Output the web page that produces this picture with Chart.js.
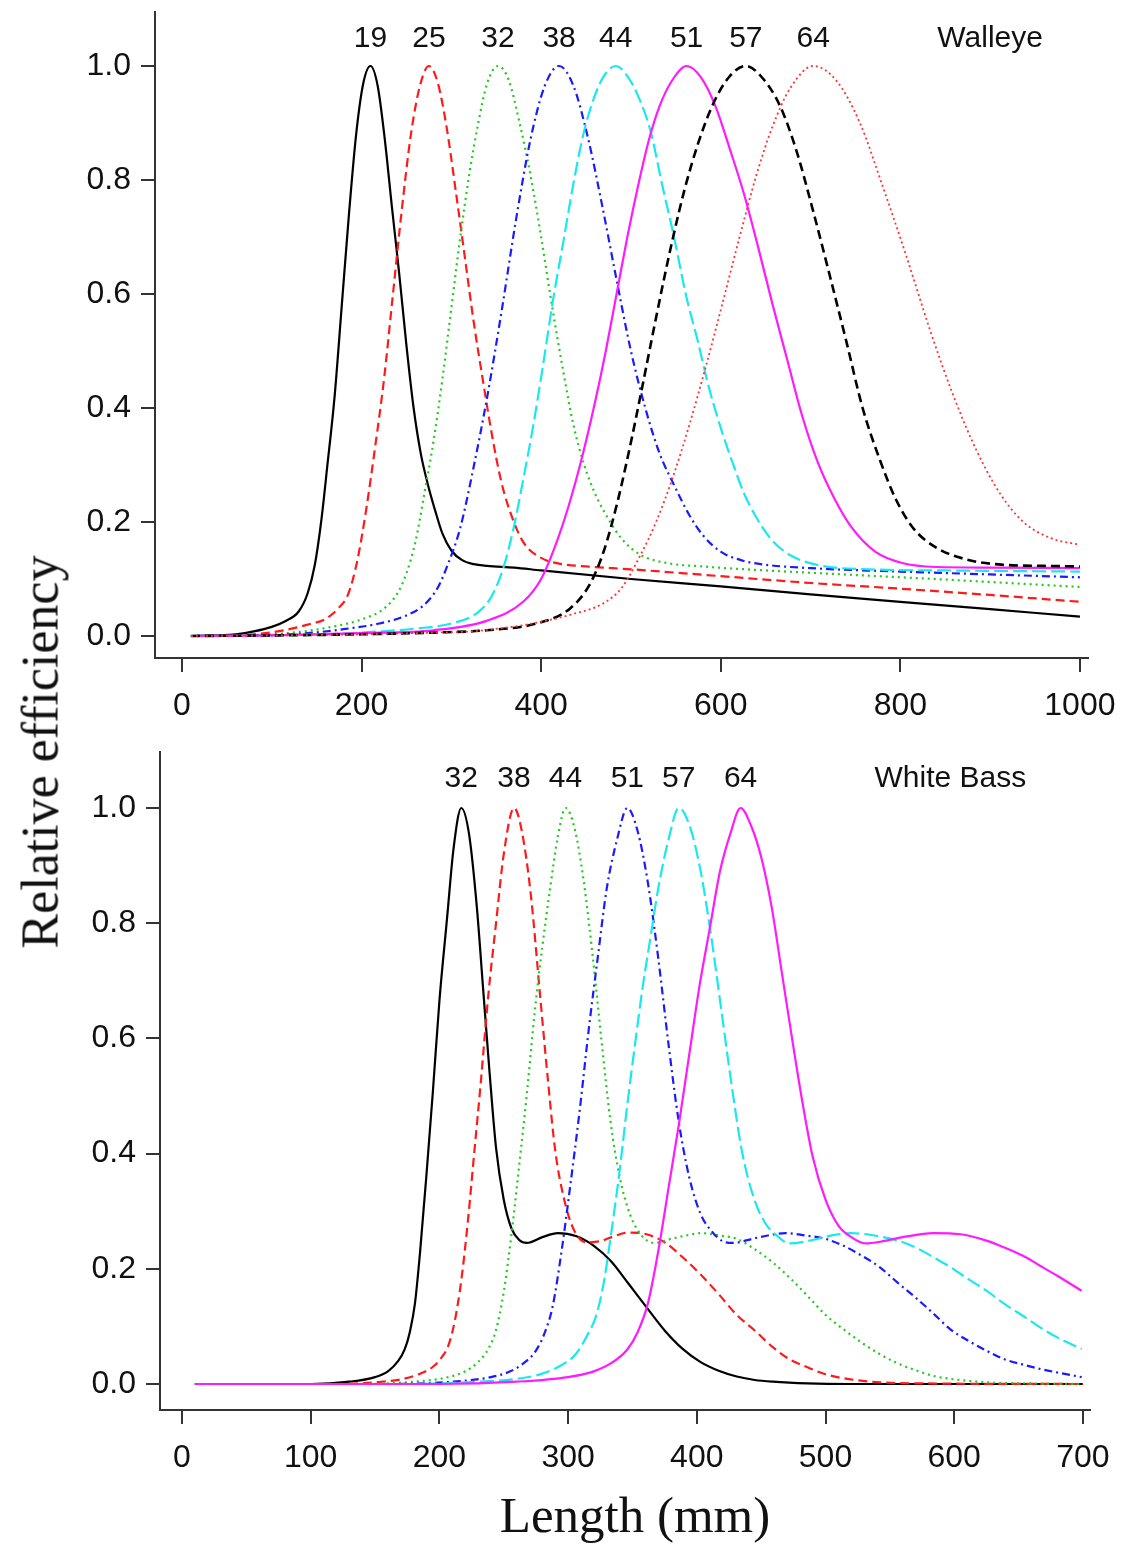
<!DOCTYPE html>
<html>
<head>
<meta charset="utf-8">
<script src="https://cdn.jsdelivr.net/npm/chart.js@4.4.1/dist/chart.umd.min.js"></script>
<style>
  html, body { margin: 0; padding: 0; background: #fff; }
  body { width: 1125px; height: 1546px; position: relative; overflow: hidden; }
  canvas { position: absolute; left: 0; }
  #walleye { top: 0; }
  #whitebass { top: 740px; }
  .axis-title {
    position: absolute;
    font-family: "Liberation Serif", "Times New Roman", serif;
    color: #111;
    white-space: nowrap;
  }
  #ytitle { left: 40px; top: 752px; font-size: 52px; transform: translate(-50%, -50%) rotate(-90deg); }
  #xtitle { left: 635px; top: 1515px; font-size: 51px; transform: translate(-50%, -50%); }
</style>
</head>
<body>
<canvas id="walleye" width="1125" height="740"></canvas>
<canvas id="whitebass" width="1125" height="760"></canvas>
<div class="axis-title" id="ytitle">Relative efficiency</div>
<div class="axis-title" id="xtitle">Length (mm)</div>
<script>
// ---- Walleye: mesh sizes (mm) and efficiency curves ----
const walleyeMesh = [19, 25, 32, 38, 44, 51, 57, 64]

const len19 = [10, 40, 60, 80, 100, 115, 130, 140, 148, 155, 162, 170, 178, 186, 194, 202, 210, 218, 226, 234, 242, 250, 258, 266, 274, 282, 290, 300, 312, 325, 340, 370, 400, 500, 600, 700, 800, 900, 1000]
const eff19 = [0, 0.001, 0.003, 0.008, 0.016, 0.026, 0.043, 0.075, 0.125, 0.20, 0.30, 0.42, 0.58, 0.74, 0.88, 0.97, 1.0, 0.965, 0.87, 0.75, 0.635, 0.51, 0.40, 0.32, 0.265, 0.22, 0.18, 0.15, 0.133, 0.126, 0.123, 0.120, 0.115, 0.100, 0.087, 0.073, 0.060, 0.047, 0.034]

const len25 = [10, 50, 80, 110, 140, 160, 175, 185, 195, 205, 215, 225, 235, 245, 255, 265, 275, 285, 295, 305, 315, 325, 335, 345, 355, 365, 380, 400, 420, 450, 500, 600, 700, 800, 900, 1000]
const eff25 = [0, 0.001, 0.003, 0.009, 0.02, 0.03, 0.05, 0.073, 0.13, 0.22, 0.33, 0.45, 0.60, 0.75, 0.88, 0.965, 1.0, 0.97, 0.89, 0.78, 0.665, 0.55, 0.45, 0.355, 0.275, 0.22, 0.165, 0.137, 0.127, 0.122, 0.117, 0.105, 0.093, 0.083, 0.072, 0.060]

const len32 = [10, 60, 100, 140, 170, 200, 225, 240, 250, 260, 270, 280, 290, 300, 310, 320, 330, 340, 352, 364, 376, 388, 400, 412, 424, 436, 448, 460, 475, 490, 510, 540, 580, 650, 750, 850, 1000]
const eff32 = [0, 0.001, 0.003, 0.009, 0.017, 0.029, 0.048, 0.075, 0.11, 0.165, 0.25, 0.34, 0.45, 0.575, 0.70, 0.81, 0.90, 0.97, 1.0, 0.975, 0.90, 0.81, 0.70, 0.58, 0.47, 0.37, 0.30, 0.25, 0.205, 0.17, 0.143, 0.128, 0.122, 0.115, 0.107, 0.099, 0.086]

const len38 = [10, 80, 140, 180, 220, 250, 270, 285, 296, 310, 324, 340, 356, 372, 388, 404, 420, 436, 452, 468, 484, 500, 516, 532, 548, 564, 580, 600, 625, 650, 700, 800, 900, 1000]
const eff38 = [0, 0.001, 0.005, 0.012, 0.022, 0.036, 0.055, 0.085, 0.125, 0.19, 0.29, 0.42, 0.57, 0.73, 0.87, 0.965, 1.0, 0.965, 0.875, 0.755, 0.625, 0.50, 0.40, 0.32, 0.265, 0.215, 0.177, 0.148, 0.132, 0.125, 0.119, 0.113, 0.108, 0.103]

const len44 = [10, 100, 160, 220, 260, 300, 330, 345, 358, 369, 380, 391, 402, 413, 425, 436, 447, 458, 469, 483, 497, 510, 522, 535, 548, 561, 574, 587, 600, 613, 626, 640, 657, 677, 710, 765, 850, 1000]
const eff44 = [0, 0.001, 0.003, 0.008, 0.013, 0.022, 0.042, 0.07, 0.12, 0.187, 0.274, 0.367, 0.474, 0.587, 0.694, 0.794, 0.88, 0.94, 0.98, 1.0, 0.98, 0.94, 0.885, 0.79, 0.70, 0.60, 0.52, 0.435, 0.365, 0.305, 0.25, 0.207, 0.168, 0.142, 0.124, 0.117, 0.115, 0.113]

const len51 = [10, 100, 200, 280, 340, 380, 400, 415, 430, 445, 460, 472, 484, 496, 508, 520, 532, 546, 562, 578, 594, 610, 626, 642, 658, 674, 690, 708, 727, 746, 772, 802, 840, 900, 1000]
const eff51 = [0, 0.001, 0.005, 0.01, 0.027, 0.06, 0.1, 0.155, 0.225, 0.31, 0.41, 0.50, 0.60, 0.70, 0.79, 0.87, 0.93, 0.975, 1.0, 0.98, 0.93, 0.855, 0.775, 0.68, 0.58, 0.485, 0.39, 0.305, 0.24, 0.19, 0.148, 0.128, 0.121, 0.12, 0.119]

const len57 = [10, 100, 200, 280, 339, 395, 432, 454, 470, 485, 500, 513, 525, 536, 547, 560, 575, 592, 610, 628, 647, 666, 684, 703, 721, 740, 758, 777, 795, 814, 840, 877, 914, 960, 1000]
const eff57 = [0, 0.001, 0.003, 0.006, 0.01, 0.022, 0.048, 0.09, 0.15, 0.235, 0.34, 0.44, 0.535, 0.62, 0.70, 0.785, 0.865, 0.935, 0.982, 1.0, 0.978, 0.93, 0.853, 0.745, 0.635, 0.516, 0.40, 0.31, 0.24, 0.19, 0.155, 0.133, 0.125, 0.123, 0.122]

const len64 = [10, 100, 200, 280, 321, 376, 400, 432, 470, 490, 510, 528, 547, 565, 584, 603, 621, 640, 658, 677, 703, 729, 755, 781, 807, 833, 859, 885, 911, 937, 967, 1000]
const eff64 = [0, 0.001, 0.003, 0.006, 0.008, 0.018, 0.025, 0.037, 0.058, 0.085, 0.14, 0.2, 0.28, 0.37, 0.476, 0.59, 0.70, 0.81, 0.895, 0.96, 1.0, 0.974, 0.90, 0.786, 0.665, 0.537, 0.422, 0.325, 0.25, 0.20, 0.172, 0.16]

// ---- White Bass ----
const bassMesh = [32, 38, 44, 51, 57, 64]

const bassLen32 = [10, 100, 130, 150, 160, 168, 173, 177, 181, 185, 190, 195, 200, 206, 211, 217, 223, 229, 234, 239, 244, 250, 256, 262, 268, 280, 292, 306, 320, 333, 347, 361, 375, 389, 403, 417, 431, 445, 459, 486, 520, 700]
const bassEff32 = [0, 0, 0.004, 0.012, 0.022, 0.04, 0.06, 0.09, 0.14, 0.23, 0.365, 0.51, 0.665, 0.81, 0.93, 1.0, 0.955, 0.83, 0.685, 0.54, 0.41, 0.32, 0.27, 0.25, 0.245, 0.255, 0.262, 0.257, 0.24, 0.214, 0.174, 0.133, 0.093, 0.061, 0.038, 0.023, 0.013, 0.007, 0.004, 0.001, 0, 0]

const bassLen38 = [10, 120, 150, 170, 185, 195, 202, 207, 212, 217, 222, 227, 232, 238, 244, 250, 258, 264, 271, 278, 284, 290, 297, 304, 314, 325, 335, 347, 361, 375, 389, 403, 417, 431, 445, 459, 472, 486, 500, 514, 542, 580, 700]
const bassEff38 = [0, 0, 0.003, 0.008, 0.018, 0.03, 0.047, 0.067, 0.11, 0.18, 0.28, 0.40, 0.52, 0.675, 0.80, 0.92, 1.0, 0.96, 0.85, 0.68, 0.535, 0.405, 0.32, 0.27, 0.246, 0.248, 0.256, 0.263, 0.26, 0.246, 0.22, 0.19, 0.156, 0.12, 0.093, 0.064, 0.043, 0.029, 0.017, 0.01, 0.003, 0.001, 0]

const bassLen44 = [10, 140, 180, 205, 220, 230, 238, 244, 250, 256, 262, 268, 274, 280, 286, 292, 298, 305, 312, 319, 326, 333, 340, 348, 357, 367, 380, 392, 403, 417, 431, 445, 459, 472, 486, 500, 514, 528, 542, 556, 570, 584, 597, 625, 660, 700]
const bassEff44 = [0, 0, 0.004, 0.011, 0.022, 0.038, 0.061, 0.094, 0.16, 0.26, 0.38, 0.505, 0.645, 0.76, 0.86, 0.95, 1.0, 0.965, 0.875, 0.745, 0.595, 0.455, 0.36, 0.295, 0.258, 0.245, 0.252, 0.258, 0.262, 0.258, 0.252, 0.234, 0.211, 0.185, 0.153, 0.12, 0.095, 0.072, 0.052, 0.036, 0.024, 0.014, 0.009, 0.003, 0.001, 0]

const bassLen51 = [10, 160, 210, 240, 255, 266, 275, 282, 288, 295, 302, 309, 316, 323, 330, 338, 346, 354, 362, 370, 378, 386, 394, 403, 412, 420, 428, 445, 458, 469, 484, 500, 514, 528, 542, 556, 570, 584, 597, 611, 625, 639, 653, 667, 680, 699]
const bassEff51 = [0, 0, 0.004, 0.012, 0.022, 0.037, 0.058, 0.09, 0.135, 0.232, 0.35, 0.475, 0.615, 0.74, 0.86, 0.945, 1.0, 0.96, 0.87, 0.74, 0.59, 0.455, 0.36, 0.295, 0.264, 0.248, 0.245, 0.253, 0.259, 0.262, 0.258, 0.252, 0.24, 0.223, 0.203, 0.176, 0.15, 0.122, 0.095, 0.075, 0.058, 0.043, 0.034, 0.026, 0.02, 0.012]

const bassLen57 = [10, 180, 230, 260, 280, 295, 306, 315, 322, 328, 334, 340, 346, 352, 358, 364, 370, 378, 386, 395, 403, 411, 419, 427, 435, 444, 453, 462, 472, 490, 505, 520, 540, 556, 570, 584, 597, 611, 625, 639, 653, 667, 680, 699]
const bassEff57 = [0, 0, 0.004, 0.009, 0.018, 0.033, 0.052, 0.085, 0.12, 0.18, 0.27, 0.37, 0.485, 0.59, 0.69, 0.775, 0.86, 0.945, 1.0, 0.965, 0.89, 0.78, 0.65, 0.52, 0.405, 0.325, 0.28, 0.258, 0.244, 0.25, 0.258, 0.262, 0.257, 0.249, 0.237, 0.22, 0.203, 0.182, 0.162, 0.139, 0.119, 0.098, 0.081, 0.061]

const bassLen64 = [10, 200, 260, 300, 320, 334, 346, 354, 362, 370, 378, 386, 394, 402, 410, 418, 426, 434, 442, 450, 458, 466, 474, 482, 490, 500, 510, 520, 531, 545, 560, 584, 605, 625, 639, 653, 667, 680, 699]
const bassEff64 = [0, 0, 0.004, 0.012, 0.022, 0.037, 0.06, 0.09, 0.14, 0.23, 0.34, 0.45, 0.57, 0.69, 0.79, 0.89, 0.955, 1.0, 0.97, 0.915, 0.83, 0.715, 0.6, 0.49, 0.395, 0.32, 0.275, 0.255, 0.244, 0.248, 0.255, 0.262, 0.26, 0.249, 0.237, 0.223, 0.205, 0.188, 0.162]

const walleyeLens = [len19, len25, len32, len38, len44, len51, len57, len64]
const walleyeEffs = [eff19, eff25, eff32, eff38, eff44, eff51, eff57, eff64]
const bassLens = [bassLen32, bassLen38, bassLen44, bassLen51, bassLen57, bassLen64]
const bassEffs = [bassEff32, bassEff38, bassEff44, bassEff51, bassEff57, bassEff64]

// tick values
const walleyeXTicks = [0, 200, 400, 600, 800, 1000]
const bassXTicks = [0, 100, 200, 300, 400, 500, 600, 700]
const effTicks = [0, 0.2, 0.4, 0.6, 0.8, 1.0]

// line styles, in R's colour / lty order
const lineColors = ["#000000", "#ff1a1a", "#22c922", "#1a1aff", "#1ae8f0", "#ff1aff", "#000000", "#ff3333"]
const lineDashes = [[], [9, 5], [2, 4], [2, 4, 8, 4], [14, 5], [], [9, 5], [2, 3]]
const lineWidths = [2.2, 2.2, 2.2, 2.2, 2.2, 2.2, 2.6, 1.8]

const FONT = "'Liberation Sans', Arial, sans-serif"

// number above each peak + panel name
const curveLabels = {
  id: "curveLabels",
  afterDatasetsDraw(chart, args, opts) {
    const { ctx, scales: { x, y } } = chart
    ctx.save()
    ctx.fillStyle = "#111"
    ctx.textAlign = "center"
    ctx.textBaseline = "middle"
    ctx.font = "30px " + FONT
    chart.data.datasets.forEach(ds => {
      let top = ds.data[0]
      ds.data.forEach(p => { if (p.y > top.y) top = p })
      ctx.fillText(ds.label, x.getPixelForValue(top.x), y.getPixelForValue(opts.labelY))
    })
    ctx.fillText(opts.panel, x.getPixelForValue(opts.panelX), y.getPixelForValue(opts.labelY))
    ctx.restore()
  }
}

function makePanel(canvas, meshes, lens, effs, cfg) {
  const datasets = meshes.map((m, i) => ({
    label: String(m),
    data: lens[i].map((x, j) => ({ x: x, y: effs[i][j] })),
    borderColor: lineColors[i],
    borderDash: lineDashes[i],
    borderWidth: lineWidths[i],
    borderCapStyle: "butt",
    pointRadius: 0,
    fill: false,
    cubicInterpolationMode: "monotone",
    order: meshes.length - i
  }))

  const axisColor = "#333"
  return new Chart(canvas, {
    type: "line",
    data: { datasets },
    plugins: [curveLabels],
    options: {
      responsive: false,
      animation: false,
      layout: { padding: { top: cfg.top, right: cfg.right, left: 0, bottom: 0 } },
      plugins: {
        legend: { display: false },
        tooltip: { enabled: false },
        curveLabels: { labelY: cfg.labelY, panel: cfg.panel, panelX: cfg.panelX }
      },
      scales: {
        x: {
          type: "linear",
          min: cfg.xMin,
          max: cfg.xMax,
          afterBuildTicks: s => { s.ticks = cfg.xTicks.map(v => ({ value: v })) },
          afterFit: s => { s.height = cfg.xHeight; s.paddingLeft = 0; s.paddingRight = 0 },
          grid: { drawOnChartArea: false, drawTicks: true, tickLength: 14, color: axisColor, lineWidth: 2 },
          border: { display: true, color: axisColor, width: 2 },
          ticks: { color: "#111", font: { family: FONT, size: 32 }, padding: 15, maxRotation: 0, autoSkip: false, callback: v => String(v) }
        },
        y: {
          type: "linear",
          min: cfg.yMin,
          max: cfg.yMax,
          afterBuildTicks: s => { s.ticks = effTicks.map(v => ({ value: v })) },
          afterFit: s => { s.width = cfg.yWidth; s.paddingTop = 0; s.paddingBottom = 0 },
          grid: { drawOnChartArea: false, drawTicks: true, tickLength: 14, color: axisColor, lineWidth: 2 },
          border: { display: true, color: axisColor, width: 2 },
          ticks: { color: "#111", font: { family: FONT, size: 32 }, padding: 10, callback: v => v.toFixed(1) }
        }
      }
    }
  })
}

makePanel(document.getElementById("walleye"), walleyeMesh, walleyeLens, walleyeEffs, {
  top: 12, right: 37, xHeight: 82, yWidth: 155,
  xMin: -30, xMax: 1009, yMin: -0.0386, yMax: 1.0947,
  xTicks: walleyeXTicks, labelY: 1.047, panel: "Walleye", panelX: 900
})

makePanel(document.getElementById("whitebass"), bassMesh, bassLens, bassEffs, {
  top: 12, right: 35, xHeight: 90, yWidth: 160,
  xMin: -17.1, xMax: 705.5, yMin: -0.0451, yMax: 1.0972,
  xTicks: bassXTicks, labelY: 1.05, panel: "White Bass", panelX: 597
})
</script>
</body>
</html>
